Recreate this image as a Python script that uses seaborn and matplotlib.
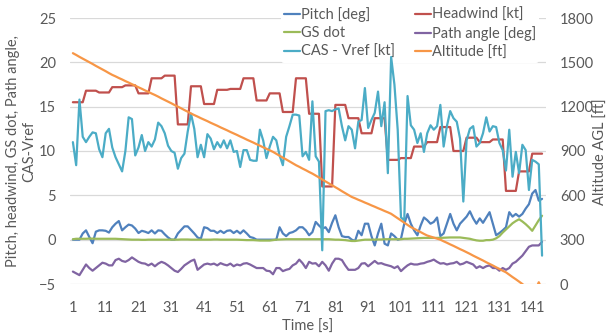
import numpy as np
import pandas as pd
import seaborn as sns
import matplotlib
matplotlib.use("Agg")
import matplotlib.pyplot as plt

sns.set_theme(style="white")
plt.rcParams['font.family'] = ['Lato', 'DejaVu Sans']

time = list(range(1, 145))
xtick_labels = list(range(1, 142, 10))

pitch = [0.0, 0.0, 0.0, 0.7, 1.05, 0.3, -0.4, 0.9, 1.05, 1.05,
         1.0, 0.8, 1.4, 1.8, 2.1, 1.05, 1.4, 1.7, 1.6, 1.25,
         0.75, 1.0, 0.9, 0.75, 1.05, 0.7, 1.05, 1.0, 0.6, 0.25,
         0.0, 0.0, 0.7, 1.1, 1.5, 1.5, 1.1, 0.7, 0.25, 0.1,
         1.4, 1.3, 1.0, 1.0, 0.75, 1.0, 0.75, 1.0, 1.05, 0.75,
         1.0, 0.7, 1.05, 0.7, 0.3, 0.2, 0.0, 0.0, 0.0, 0.0,
         0.0, 0.0, 0.0, 1.4, 0.7, 0.4, 0.75, 0.85, 1.05, 1.4,
         1.4, 1.05, 0.5, 0.85, 2.0, 1.6, 1.25, 1.4, 0.85, 1.9,
         2.75, 1.4, 0.4, 0.3, 0.3, 0.0, -0.15, 1.0, 0.5, 1.8,
         1.8, 0.4, -0.65, 0.7, 1.8, -0.45, -0.65, 0.7, 0.4, 0.0,
         0.1, 1.8, 2.9, 1.8, 1.05, 0.5, 1.6, 2.5, 2.2, 1.8,
         2.0, 2.5, 0.4, 0.7, 1.8, 2.9, 1.8, 1.05, 1.8, 2.2,
         2.6, 3.2, 2.4, 1.8, 2.4, 1.9, 2.5, 3.1, 1.8, 0.5,
         0.75, 1.05, 1.4, 3.1, 2.6, 2.9, 2.6, 2.9, 3.5, 4.0,
         5.2, 5.6, 4.4, 4.6]

headwind = [15.5, 15.5, 15.5, 15.5, 16.8, 16.8, 16.8, 16.8, 16.6, 16.6,
            16.6, 16.6, 17.2, 17.2, 17.2, 17.2, 17.4, 17.4, 17.4, 17.4,
            16.5, 16.5, 16.5, 16.5, 18.2, 18.2, 18.2, 18.2, 18.5, 18.5,
            18.5, 18.5, 13.0, 13.0, 13.0, 13.0, 17.3, 17.3, 17.3, 17.3,
            15.3, 15.3, 15.3, 15.3, 16.9, 16.9, 16.9, 16.9, 17.0, 17.0,
            17.0, 17.0, 18.2, 18.2, 18.2, 18.2, 15.7, 15.7, 15.7, 15.7,
            16.5, 16.5, 16.5, 16.5, 14.4, 14.4, 14.4, 14.4, 18.2, 18.2,
            18.2, 18.2, 14.2, 14.2, 14.2, 14.2, 6.0, 6.0, 6.0, 6.0,
            15.2, 15.2, 15.2, 15.2, 13.7, 13.7, 13.7, 13.7, 12.0, 12.0,
            12.0, 12.0, 13.7, 13.7, 13.7, 13.7, 9.0, 9.0, 9.0, 9.0,
            9.2, 9.2, 9.2, 9.2, 10.5, 10.5, 10.5, 10.5, 11.0, 11.0,
            11.0, 11.0, 12.7, 12.7, 12.7, 12.7, 10.0, 10.0, 10.0, 10.0,
            11.5, 11.5, 11.5, 11.5, 11.0, 11.0, 11.0, 11.0, 11.3, 11.3,
            11.3, 11.3, 5.5, 5.5, 5.5, 5.5, 7.7, 7.7, 7.7, 7.7,
            9.7, 9.7, 9.7, 9.7]

gs_dot = [0.05, 0.1, 0.1, 0.1, 0.1, 0.12, 0.12, 0.1, 0.1, 0.1,
          0.1, 0.1, 0.1, 0.1, 0.08, 0.05, 0.05, 0.03, 0.0, 0.0,
          0.0, -0.02, -0.02, 0.0, 0.0, 0.0, 0.0, 0.0, 0.0, 0.0,
          0.0, 0.0, 0.0, 0.02, 0.02, 0.02, 0.0, 0.0, 0.0, 0.0,
          0.0, 0.0, 0.0, 0.02, 0.02, 0.0, 0.0, 0.0, 0.0, 0.0,
          0.0, -0.02, -0.05, -0.05, -0.05, -0.05, -0.08, -0.1, -0.1, -0.1,
          -0.1, -0.05, 0.0, 0.02, 0.05, 0.05, 0.05, 0.05, 0.05, 0.05,
          0.05, 0.05, 0.05, 0.05, 0.05, 0.05, 0.05, 0.05, 0.05, 0.02,
          0.0, 0.0, -0.02, -0.05, -0.1, -0.15, -0.15, -0.1, -0.05, 0.0,
          0.0, 0.0, 0.0, 0.02, 0.02, 0.05, 0.05, 0.05, 0.05, 0.05,
          0.05, 0.1, 0.1, 0.12, 0.15, 0.15, 0.18, 0.2, 0.2, 0.2,
          0.2, 0.2, 0.2, 0.22, 0.25, 0.25, 0.25, 0.25, 0.25, 0.2,
          0.15, 0.1, 0.0, -0.08, -0.12, -0.12, -0.05, -0.05, 0.0, 0.15,
          0.4, 0.8, 1.15, 1.5, 1.85, 2.1, 2.3, 2.05, 1.75, 1.4,
          1.0, 1.6, 2.2, 2.7]

path_angle = [-3.6, -3.8, -4.0, -3.4, -2.8, -3.2, -3.5, -3.2, -2.9, -2.6,
              -2.7, -2.9, -2.9, -2.3, -2.15, -2.4, -2.5, -2.3, -2.0, -2.25,
              -2.5, -2.65, -2.7, -2.9, -2.7, -3.0, -2.7, -2.5, -2.65, -2.9,
              -3.2, -3.5, -3.65, -3.3, -2.9, -2.65, -2.4, -2.25, -3.4, -3.1,
              -2.8, -2.7, -2.8, -2.7, -2.9, -2.65, -2.8, -2.9, -2.7, -3.0,
              -2.8, -2.9, -2.7, -2.65, -2.8, -3.0, -3.2, -3.2, -3.2, -3.5,
              -3.55, -3.9, -3.2, -3.2, -3.55, -3.4, -3.3, -2.9, -2.7, -2.25,
              -2.65, -3.2, -2.5, -2.7, -2.65, -3.0, -2.5, -2.9, -3.5, -2.7,
              -2.15, -2.15, -2.3, -2.9, -3.4, -3.4, -3.4, -3.2, -2.7, -2.65,
              -3.0, -2.7, -2.4, -2.7, -2.65, -2.8, -2.9, -3.0, -3.2, -3.0,
              -3.55, -3.2, -2.9, -2.7, -2.8, -2.8, -2.7, -2.65, -2.5, -2.4,
              -2.25, -2.5, -2.7, -2.65, -2.8, -2.7, -2.65, -2.5, -2.8, -2.7,
              -2.5, -2.65, -2.8, -3.2, -3.0, -3.2, -3.0, -2.9, -3.2, -3.2,
              -3.5, -3.2, -3.4, -3.2, -2.7, -2.5, -2.15, -1.8, -1.3, -0.8,
              -0.65, -0.65, -0.65, -0.25]

cas_vref = [11.0, 8.4, 15.8, 11.6, 11.0, 11.6, 12.1, 12.0, 10.2, 9.3,
            12.0, 12.5, 10.4, 9.3, 8.5, 7.7, 10.0, 13.8, 13.6, 9.5,
            10.4, 11.8, 10.0, 11.0, 10.5, 11.3, 13.2, 12.8, 12.0, 10.6,
            10.0, 9.8, 8.0, 9.2, 9.7, 12.2, 14.2, 12.5, 9.3, 10.7,
            9.3, 11.9, 11.4, 10.2, 11.0, 10.4, 11.2, 10.3, 11.2, 9.9,
            10.0, 8.2, 10.1, 10.1, 9.0, 8.9, 8.9, 12.4, 11.2, 9.2,
            10.5, 11.6, 11.2, 9.5, 8.4, 11.6, 12.8, 14.1, 14.1, 14.0,
            9.4, 9.9, 9.0, 15.6, 9.4, 8.8, -1.2, 14.5, 14.6, 14.5,
            14.7, 14.8, 12.8, 11.2, 12.8, 12.4, 10.3, 13.3, 13.5, 17.1,
            12.6, 13.5, 14.3, 16.7, 12.8, 15.5, 7.5, 20.6, 17.5, 12.4,
            2.5, 2.2, 16.2, 12.9, 12.4, 10.9, 12.0, 9.9, 12.0, 12.9,
            12.4, 12.8, 15.2, 10.5, 12.8, 14.5, 13.7, 13.3, 11.4, 4.3,
            11.2, 12.5, 12.8, 10.5, 10.9, 12.0, 13.8, 12.2, 12.8, 12.7,
            10.9, 10.1, 7.8, 12.4, 7.1, 9.9, 7.5, 10.7, 10.1, 5.6,
            9.0, 8.8, 8.5, -1.8]

altitude = [1562, 1550, 1537, 1525, 1513, 1501, 1489, 1476, 1464, 1452,
            1440, 1427, 1415, 1405, 1394, 1384, 1373, 1363, 1352, 1342,
            1331, 1321, 1310, 1300, 1289, 1279, 1268, 1256, 1245, 1234,
            1223, 1211, 1200, 1189, 1177, 1166, 1154, 1143, 1133, 1122,
            1112, 1102, 1091, 1081, 1071, 1060, 1050, 1040, 1029, 1019,
            1009, 998, 988, 977, 967, 957, 946, 936, 925, 915,
            905, 894, 881, 868, 855, 843, 830, 817, 804, 793,
            781, 770, 758, 747, 734, 721, 707, 694, 681, 668,
            655, 642, 628, 615, 602, 589, 580, 570, 561, 551,
            542, 532, 523, 513, 504, 494, 485, 475, 460, 445,
            430, 415, 400, 385, 374, 362, 351, 339, 328, 321,
            314, 307, 300, 289, 279, 268, 258, 247, 236, 226,
            215, 204, 192, 181, 170, 159, 147, 136, 125, 113,
            102, 90, 79, 63, 47, 32, 16, 0, -20, -45,
            -60, -40, 12, -40]

series_names = ["Pitch [deg]", "Headwind [kt]", "GS dot", "Path angle [deg]", "CAS - Vref [kt]"]
series_vals = [pitch, headwind, gs_dot, path_angle, cas_vref]
colors = {"Pitch [deg]": "#4F81BD", "Headwind [kt]": "#C0504D", "GS dot": "#9BBB59",
          "Path angle [deg]": "#8064A2", "CAS - Vref [kt]": "#4BACC6", "Altitude [ft]": "#F79646"}

TXT = "#595959"
fig = plt.figure(figsize=(6.11, 3.36), dpi=100)
ax = fig.add_axes([70 / 611, 52 / 336, 476 / 611, 266 / 336])
ax2 = ax.twinx()

handles = {}
for name, vals in zip(series_names, series_vals):
    df = pd.DataFrame({"Time": time, "val": vals})
    sns.lineplot(data=df, x="Time", y="val", color=colors[name], linewidth=1.6, ax=ax, label=name)
    handles[name] = ax.lines[-1]

dfa = pd.DataFrame({"Time": time, "val": altitude})
sns.lineplot(data=dfa, x="Time", y="val", color=colors["Altitude [ft]"], linewidth=1.6, ax=ax2, label="Altitude [ft]")
handles["Altitude [ft]"] = ax2.lines[-1]
if ax2.get_legend():
    ax2.get_legend().remove()
if ax.get_legend():
    ax.get_legend().remove()

ax.set_xlim(0.12, 145.2)
ax.set_ylim(-5, 25)
ax2.set_ylim(0, 1800)
ax.set_yticks(range(-5, 26, 5))
ax2.set_yticks(range(0, 1801, 300))
ax.set_xticks(xtick_labels)
ax.set_xticklabels([str(v) for v in xtick_labels])

for a in (ax, ax2):
    for s in a.spines.values():
        s.set_visible(False)
    a.tick_params(length=0, labelsize=10.5, colors=TXT)
ax.tick_params(axis='y', pad=10)
ax.tick_params(axis='x', pad=12.5)
ax2.tick_params(axis='y', pad=10)
ax.yaxis.grid(True, color="#D9D9D9", linewidth=0.9)
ax.set_axisbelow(True)
ax2.grid(False)
ax.set_xlabel("Time [s]", fontsize=10.5, color=TXT, labelpad=3)
ax.set_ylabel("")
ax2.set_ylabel("")

fig.text(21 / 611, 0.55, "Pitch, headwind, GS dot, Path angle,\nCAS-Vref", rotation=90,
         ha='center', va='center', multialignment='center', fontsize=10.5, color=TXT, linespacing=1.25)
fig.text(601 / 611, 0.55, "Altitude AGL [ft]", rotation=90, ha='center', va='center',
         fontsize=10.5, color=TXT)

order = ["Pitch [deg]", "GS dot", "CAS - Vref [kt]", "Headwind [kt]", "Path angle [deg]", "Altitude [ft]"]
leg = ax.legend([handles[n] for n in order], order, ncol=2, loc='upper left',
                bbox_to_anchor=(281 / 611, 1 - 4 / 336), bbox_transform=fig.transFigure,
                frameon=True, framealpha=1, facecolor='white', edgecolor='none',
                fontsize=10.5, handlelength=1.1, handletextpad=0.05, columnspacing=1.4,
                labelspacing=0.3, borderpad=0.2, borderaxespad=0)
for t in leg.get_texts():
    t.set_color(TXT)
leg.set_zorder(1)

fig.savefig("out.png", dpi=100)
